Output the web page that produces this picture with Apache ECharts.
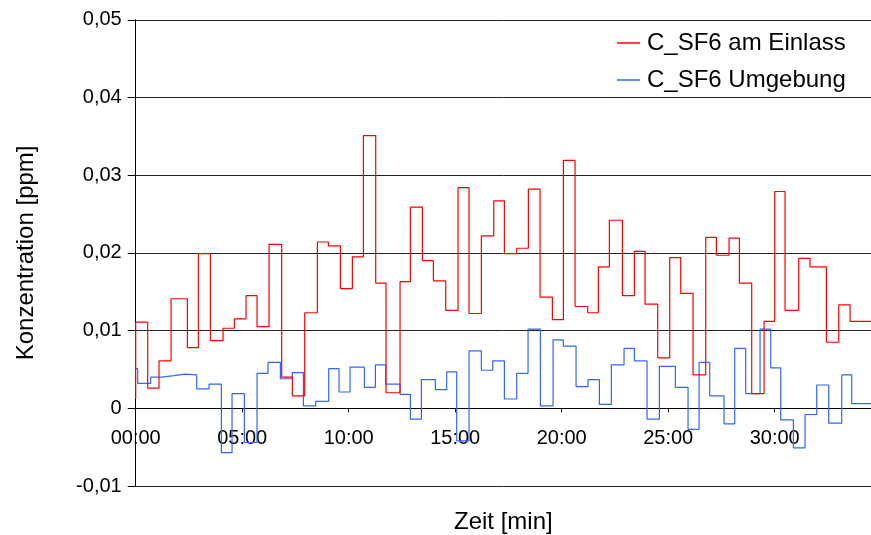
<!DOCTYPE html>
<html>
<head>
<meta charset="utf-8">
<script src="https://cdn.jsdelivr.net/npm/echarts@6/dist/echarts.min.js"></script>
<style>
html,body{margin:0;padding:0;background:#fff;}
#chart{width:871px;height:535px;}
</style>
</head>
<body>
<div id="chart"></div>
<script>
// Time in minutes, values in ppm (step data)
const redName = 'C_SF6 am Einlass';
const blueName = 'C_SF6 Umgebung';

const redTimes = [0, 0, 0.563, 1.095, 1.659, 2.426, 2.942, 3.505, 4.100, 4.632, 5.180, 5.696, 6.260, 6.854, 7.355, 7.934, 8.529, 9.045, 9.609, 10.172, 10.689, 11.268, 11.753, 12.410, 12.895, 13.459, 13.975, 14.554, 15.133, 15.649, 16.228, 16.808, 17.308, 17.887, 18.435, 18.983, 19.562, 20.078, 20.626, 21.221, 21.721, 22.238, 22.848, 23.412, 23.912, 24.507, 25.070, 25.587, 26.166, 26.761, 27.261, 27.856, 28.341, 28.920, 29.499, 30.000, 30.485, 31.127, 31.659, 32.426, 33.005, 33.537, 34.52];
const redValues = [0.0012, 0.0111, 0.0026, 0.0061, 0.0141, 0.0078, 0.0199, 0.0087, 0.0103, 0.0115, 0.0145, 0.0105, 0.0211, 0.0040, 0.0016, 0.0123, 0.0214, 0.0209, 0.0154, 0.0195, 0.0351, 0.0161, 0.0020, 0.0163, 0.0259, 0.0190, 0.0164, 0.0126, 0.0284, 0.0122, 0.0222, 0.0267, 0.0199, 0.0206, 0.0282, 0.0143, 0.0114, 0.0319, 0.0131, 0.0123, 0.0182, 0.0242, 0.0145, 0.0202, 0.0134, 0.0065, 0.0194, 0.0148, 0.0043, 0.0220, 0.0197, 0.0219, 0.0161, 0.0019, 0.0112, 0.0279, 0.0126, 0.0193, 0.0182, 0.0085, 0.0133, 0.0112, 0.0112];

const blueTimes = [0, 0.094, 0.704, 1.221, 1.800, 2.316, 2.864, 3.443, 4.022, 4.523, 5.102, 5.696, 6.213, 6.792, 7.355, 7.872, 8.451, 9.061, 9.546, 10.063, 10.736, 11.252, 11.737, 12.410, 12.895, 13.412, 14.069, 14.601, 15.070, 15.649, 16.228, 16.761, 17.308, 17.887, 18.419, 18.998, 19.593, 20.078, 20.673, 21.236, 21.768, 22.332, 22.926, 23.412, 24.006, 24.585, 25.337, 25.931, 26.448, 26.948, 27.621, 28.122, 28.638, 29.311, 29.812, 30.282, 30.876, 31.424, 31.972, 32.535, 33.146, 33.615, 34.52];
const blueValues = [0.0051, 0.0032, 0.0040, 0.0042, 0.0044, 0.0043, 0.0025, 0.0031, -0.0057, 0.0019, -0.0044, 0.0045, 0.0059, 0.0038, 0.0046, 0.0003, 0.0009, 0.0051, 0.0021, 0.0053, 0.0027, 0.0056, 0.0031, 0.0018, -0.0014, 0.0037, 0.0024, 0.0047, -0.0042, 0.0074, 0.0049, 0.0061, 0.0012, 0.0045, 0.0102, 0.0003, 0.0088, 0.0080, 0.0028, 0.0037, 0.0005, 0.0056, 0.0077, 0.0061, -0.0014, 0.0054, 0.0027, -0.0027, 0.0059, 0.0016, -0.0020, 0.0077, 0.0019, 0.0102, 0.0052, -0.0015, -0.0051, -0.0008, 0.0030, -0.0019, 0.0043, 0.0006, 0.0006];

const xTickValues = [0, 5, 10, 15, 20, 25, 30];
const xMax = 34.52;
const yMin = -0.01, yMax = 0.05, yInterval = 0.01;

function zip(t, v) { return t.map((x, i) => [x, v[i]]); }

const FONT = '"Liberation Sans", Arial, sans-serif';

const chart = echarts.init(document.getElementById('chart'), null, {renderer: 'canvas'});
chart.setOption({
  animation: false,
  backgroundColor: '#ffffff',
  grid: {left: 135.7, right: 0, top: 19.8, bottom: 49, containLabel: false, outerBoundsMode: 'none'},
  legend: {
    orient: 'vertical',
    left: 617,
    top: 31,
    padding: 0,
    itemGap: 13,
    itemWidth: 23,
    itemHeight: 1.5,
    icon: 'rect',
    textStyle: {fontFamily: FONT, fontSize: 24, color: '#000', padding: [0, 0, 0, 2]},
    data: [redName, blueName]
  },
  xAxis: {
    type: 'value',
    min: 0,
    max: xMax,
    interval: 5,
    name: 'Zeit [min]',
    nameLocation: 'middle',
    nameGap: 24,
    nameTextStyle: {fontFamily: FONT, fontSize: 24, color: '#000'},
    axisLine: {onZero: true, lineStyle: {color: '#000', width: 1}},
    axisTick: {show: true, length: 4, customValues: xTickValues, lineStyle: {color: '#000'}},
    axisLabel: {
      customValues: xTickValues,
      margin: -58,
      fontFamily: FONT, fontSize: 20, color: '#000',
      formatter: v => (v < 10 ? '0' : '') + Math.round(v) + ':00'
    },
    splitLine: {show: false}
  },
  yAxis: {
    type: 'value',
    min: yMin,
    max: yMax,
    interval: yInterval,
    name: 'Konzentration [ppm]',
    nameLocation: 'middle',
    nameGap: 97,
    nameTextStyle: {fontFamily: FONT, fontSize: 24, color: '#000'},
    axisLine: {show: true, onZero: false, lineStyle: {color: '#000', width: 1}},
    axisTick: {show: true, length: 8, inside: false, lineStyle: {color: '#000'}},
    axisLabel: {
      margin: 14,
      fontFamily: FONT, fontSize: 20, color: '#000',
      formatter: v => {
        const r = Math.round(v * 100) / 100;
        if (r === 0) return '0';
        return r.toFixed(2).replace('.', ',');
      }
    },
    splitLine: {show: true, lineStyle: {color: '#222', width: 1}}
  },
  series: [
    {
      name: redName,
      type: 'line',
      step: 'end',
      showSymbol: false,
      symbol: 'none',
      data: zip(redTimes, redValues),
      lineStyle: {color: '#ff0000', width: 1.2},
      itemStyle: {color: '#ff0000'},
      z: 3
    },
    {
      name: blueName,
      type: 'line',
      step: 'end',
      showSymbol: false,
      symbol: 'none',
      data: zip(blueTimes, blueValues),
      lineStyle: {color: '#3366ff', width: 1.2},
      itemStyle: {color: '#3366ff'},
      z: 2
    }
  ]
});
</script>
</body>
</html>
